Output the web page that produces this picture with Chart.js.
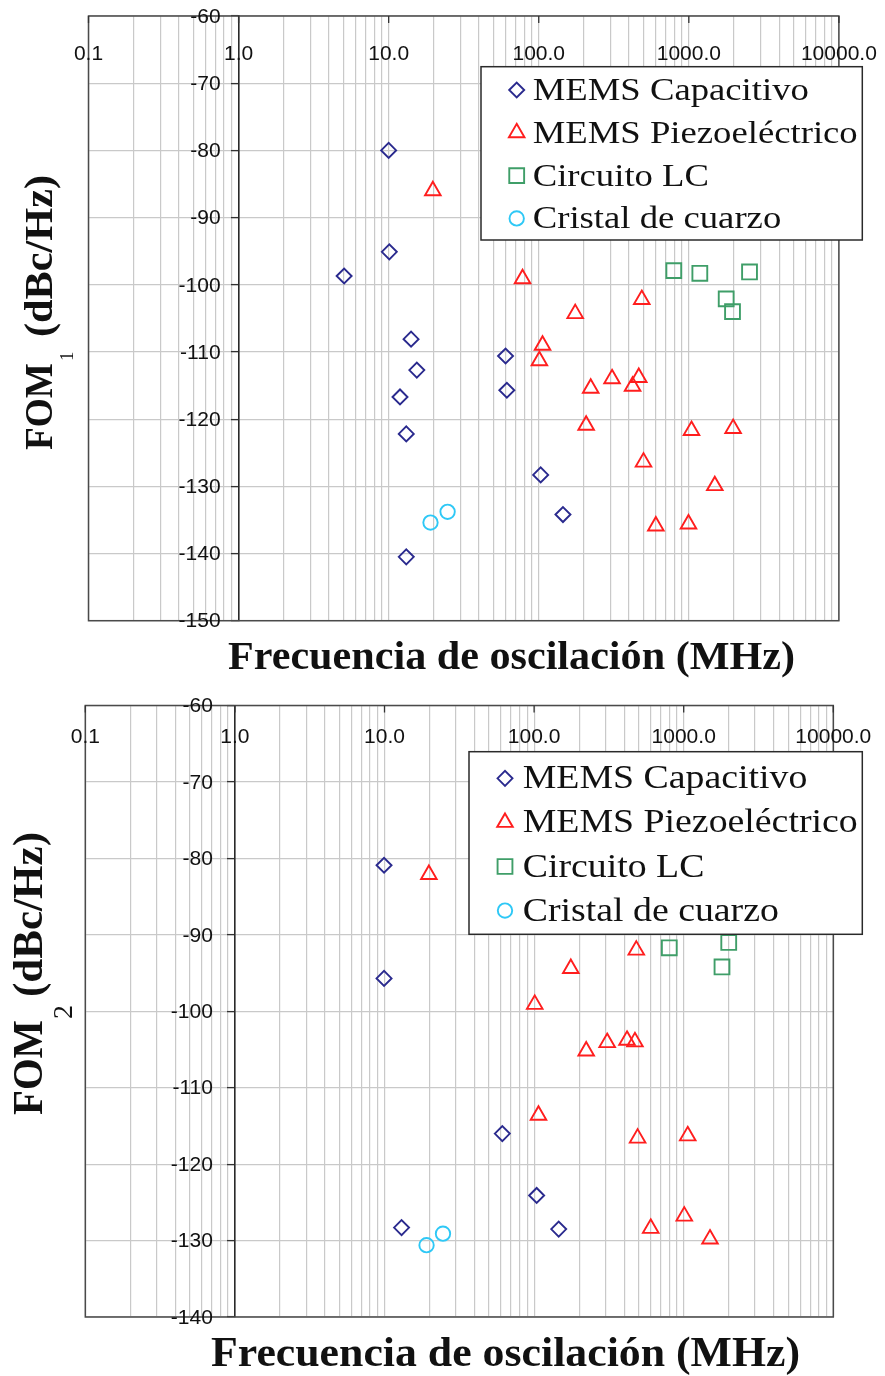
<!DOCTYPE html>
<html>
<head>
<meta charset="utf-8">
<title>FOM vs frecuencia de oscilación</title>
<script src="https://cdn.jsdelivr.net/npm/chart.js@4.4.1/dist/chart.umd.min.js"></script>
<style>
  html, body { margin: 0; padding: 0; background: #fff; }
  .panel { position: absolute; left: 0; width: 885px; height: 688px; }
  #panelTop { top: 0; }
  #panelBottom { top: 688px; }
  canvas { display: block; }
</style>
</head>
<body>
<div class="panel" id="panelTop"><canvas id="chartFom1" width="885" height="688"></canvas></div>
<div class="panel" id="panelBottom"><canvas id="chartFom2" width="885" height="688"></canvas></div>
<script>
// ---- axis ticks ----
const xDecades = [0.1, 1, 10, 100, 1000, 10000];
const xTickLabels = ['0.1', '1.0', '10.0', '100.0', '1000.0', '10000.0'];
const xGridSteps = [1, 2, 3, 4, 5, 6, 7, 8, 9];
const yTicksFom1 = [-60, -70, -80, -90, -100, -110, -120, -130, -140, -150];
const yTicksFom2 = [-60, -70, -80, -90, -100, -110, -120, -130, -140];

// ---- series names ----
const seriesNames = ['MEMS Capacitivo', 'MEMS Piezoeléctrico', 'Circuito LC', 'Cristal de cuarzo'];
const xTitle = 'Frecuencia de oscilación (MHz)';

// ---- FOM1 (frequency in MHz, value in dBc/Hz) ----
const fom1CapFreq = [10.0, 10.1, 5.05, 14.1, 15.4, 11.9, 13.1, 13.1, 60.1, 61.3, 103, 145];
const fom1CapVal  = [-80.0, -95.1, -98.7, -108.1, -112.7, -116.7, -122.2, -140.5, -110.6, -115.7, -128.3, -134.2];
const fom1PiezoFreq = [19.7, 78, 175, 486, 106, 101, 222, 308, 464, 422, 207, 1042, 1973, 499, 1490, 603, 995];
const fom1PiezoVal  = [-86.0, -99.1, -104.3, -102.2, -109.0, -111.3, -115.4, -114.0, -113.8, -115.1, -120.9, -121.7, -121.4, -126.4, -129.9, -135.9, -135.6];
const fom1LcFreq = [794, 1184, 2538, 1774, 1955];
const fom1LcVal  = [-97.9, -98.3, -98.1, -102.1, -104.0];
const fom1XtalFreq = [19.0, 24.7];
const fom1XtalVal  = [-135.4, -133.8];

// ---- FOM2 ----
const fom2CapFreq = [9.93, 9.93, 61.3, 104, 146, 13.0];
const fom2CapVal  = [-80.9, -95.7, -116.0, -124.1, -128.5, -128.3];
const fom2PiezoFreq = [19.8, 482, 176, 101, 223, 308, 418, 472, 107, 492, 1064, 602, 1009, 1499];
const fom2PiezoVal  = [-82.1, -92.0, -94.4, -99.1, -105.2, -104.1, -103.8, -104.0, -113.6, -116.6, -116.3, -128.4, -126.8, -129.8];
const fom2LcFreq = [801, 2000, 1803];
const fom2LcVal  = [-91.7, -91.0, -94.2];
const fom2XtalFreq = [19.1, 24.6];
const fom2XtalVal  = [-130.6, -129.1];

// ---- marker look per series ----
const markerStyles = [
  { pointStyle: 'rectRot',  radius: 7.5,  color: '#2a2a8e' },
  { pointStyle: 'triangle', radius: 9,    color: '#ff1e1e' },
  { pointStyle: 'rect',     radius: 10.5, color: '#3f9e68' },
  { pointStyle: 'circle',   radius: 7.2,  color: '#2ec8f6' }
];
const markerLineWidth = 1.9;
const tickFont = '21px "Liberation Sans", Arial, sans-serif';
const tickLength = 7;

// log grid positions: 1..9 x each decade, plus the last decade
const xGridValues = [];
xDecades.slice(0, -1).forEach(d => xGridValues.push(...xGridSteps.map(s => s * d)));
xGridValues.push(xDecades[xDecades.length - 1]);

function pairs(xs, ys) { return xs.map((x, i) => ({ x, y: ys[i] })); }

// draw text stretched horizontally to a given width
function fitText(ctx, text, x, y, width) {
  const w = ctx.measureText(text).width;
  ctx.save();
  ctx.translate(x, y);
  ctx.scale(width / w, 1);
  ctx.fillText(text, 0, 0);
  ctx.restore();
}

function drawMarker(ctx, style, x, y) {
  ctx.save();
  ctx.strokeStyle = style.color;
  ctx.fillStyle = 'rgba(0,0,0,0)';
  ctx.lineWidth = markerLineWidth;
  Chart.helpers.drawPoint(ctx, {
    pointStyle: style.pointStyle, radius: style.radius, rotation: 0, borderWidth: markerLineWidth
  }, x, y);
  ctx.restore();
}

// frame, tick labels, legend box and axis titles
const decorations = {
  id: 'decorations',
  beforeDatasetsDraw(chart, args, o) {
    const { ctx, chartArea: a } = chart;
    const xs = chart.scales.x;
    const ys = chart.scales.y;
    ctx.save();
    ctx.strokeStyle = '#4a4a4a';
    ctx.lineWidth = 1.5;
    ctx.strokeRect(a.left, a.top, a.right - a.left, a.bottom - a.top);

    // decade ticks hanging from the top edge, labels just below
    ctx.strokeStyle = '#333';
    ctx.lineWidth = 1.3;
    ctx.font = tickFont;
    ctx.fillStyle = '#111';
    ctx.textAlign = 'center';
    ctx.textBaseline = 'alphabetic';
    xDecades.forEach((v, i) => {
      const px = xs.getPixelForValue(v);
      ctx.beginPath();
      ctx.moveTo(px, a.top);
      ctx.lineTo(px, a.top + tickLength);
      ctx.stroke();
      ctx.fillText(xTickLabels[i], px, a.top + o.xLabelDrop);
    });

    // value labels left of the y axis, which crosses at x = 1
    const axisX = xs.getPixelForValue(1);
    ctx.textAlign = 'right';
    ctx.textBaseline = 'middle';
    ys.ticks.forEach(t => {
      ctx.fillText(String(t.value), axisX - tickLength - o.yLabelGap, ys.getPixelForValue(t.value) + 1);
    });
    ctx.restore();
  },
  afterDatasetsDraw(chart, args, o) {
    const { ctx } = chart;
    const L = o.legend;
    ctx.save();
    // legend
    ctx.fillStyle = '#fff';
    ctx.fillRect(L.box[0], L.box[1], L.box[2] - L.box[0], L.box[3] - L.box[1]);
    ctx.strokeStyle = '#2a2a2a';
    ctx.lineWidth = 1.5;
    ctx.strokeRect(L.box[0], L.box[1], L.box[2] - L.box[0], L.box[3] - L.box[1]);
    ctx.font = L.fontSize + 'px "Liberation Serif", serif';
    ctx.textAlign = 'left';
    ctx.textBaseline = 'alphabetic';
    const widest = Math.max(...seriesNames.map(n => ctx.measureText(n).width));
    const sx = L.widestWidth / widest;
    seriesNames.forEach((name, i) => {
      const y = L.firstRow + i * L.rowStep;
      drawMarker(ctx, markerStyles[i], L.markerX, y);
      ctx.fillStyle = '#111';
      ctx.save();
      ctx.translate(L.textX, y + L.baselineDrop);
      ctx.scale(sx, 1);
      ctx.fillText(name, 0, 0);
      ctx.restore();
    });

    // x title
    const T = o.xTitle;
    ctx.fillStyle = '#111';
    ctx.font = 'bold ' + T.size + 'px "Liberation Serif", serif';
    fitText(ctx, xTitle, T.x, T.baseline, T.width);

    // y title: FOM with subscript, then units
    const Y = o.yTitle;
    ctx.save();
    ctx.translate(Y.baselineX, Y.startY);
    ctx.rotate(-Math.PI / 2);
    ctx.font = 'bold ' + Y.size + 'px "Liberation Serif", serif';
    fitText(ctx, 'FOM', 0, 0, Y.fomWidth);
    ctx.font = Y.subSize + 'px "Liberation Serif", serif';
    ctx.fillText(Y.sub, Y.subStart, Y.subDrop);
    ctx.font = 'bold ' + Y.size + 'px "Liberation Serif", serif';
    fitText(ctx, '(dBc/Hz)', Y.unitStart, 0, Y.unitWidth);
    ctx.restore();

    ctx.restore();
  }
};

function buildChart(canvasId, series, yTicks, cfg) {
  const datasets = series.map((s, i) => ({
    label: seriesNames[i],
    data: pairs(s[0], s[1]),
    showLine: false,
    pointStyle: markerStyles[i].pointStyle,
    pointRadius: markerStyles[i].radius,
    pointHoverRadius: markerStyles[i].radius,
    pointBorderColor: markerStyles[i].color,
    pointBackgroundColor: 'rgba(0,0,0,0)',
    pointBorderWidth: markerLineWidth
  }));
  return new Chart(document.getElementById(canvasId), {
    type: 'scatter',
    data: { datasets },
    plugins: [decorations],
    options: {
      responsive: false,
      devicePixelRatio: 1,
      animation: false,
      events: [],
      layout: { padding: cfg.padding },
      scales: {
        x: {
          type: 'logarithmic',
          position: 'top',
          min: xDecades[0],
          max: xDecades[xDecades.length - 1],
          afterBuildTicks: s => { s.ticks = xGridValues.map(v => ({ value: v })); },
          afterFit: s => { s.height = 0; },
          ticks: { display: false },
          grid: { color: '#c9c9c9', lineWidth: 1.2, drawTicks: false },
          border: { display: false }
        },
        y: {
          type: 'linear',
          position: { x: 1 },
          min: yTicks[yTicks.length - 1],
          max: yTicks[0],
          afterBuildTicks: s => { s.ticks = yTicks.map(v => ({ value: v })); },
          ticks: { display: false },
          grid: { color: '#c9c9c9', lineWidth: 1.2, tickLength: tickLength, tickColor: '#333', tickWidth: 1.3 },
          border: { display: true, color: '#2a2a2a', width: 1.6 }
        }
      },
      plugins: {
        legend: { display: false },
        tooltip: { enabled: false },
        decorations: cfg.deco
      }
    }
  });
}

buildChart('chartFom1', [
  [fom1CapFreq, fom1CapVal],
  [fom1PiezoFreq, fom1PiezoVal],
  [fom1LcFreq, fom1LcVal],
  [fom1XtalFreq, fom1XtalVal]
], yTicksFom1, {
  padding: { left: 88.5, right: 46.1, top: 16, bottom: 67.3 },
  deco: {
    xLabelDrop: 43.5,
    yLabelGap: 11,
    legend: { box: [481, 66.7, 862.3, 240], markerX: 516.7, firstRow: 90, rowStep: 42.8,
              textX: 532.7, baselineDrop: 10, fontSize: 32, widestWidth: 325 },
    xTitle: { size: 40, x: 228, width: 567, baseline: 669 },
    yTitle: { baselineX: 52, startY: 450, size: 39, fomWidth: 87, sub: '1', subSize: 19,
              subStart: 89, subDrop: 21, unitStart: 113, unitWidth: 162 }
  }
});

buildChart('chartFom2', [
  [fom2CapFreq, fom2CapVal],
  [fom2PiezoFreq, fom2PiezoVal],
  [fom2LcFreq, fom2LcVal],
  [fom2XtalFreq, fom2XtalVal]
], yTicksFom2, {
  padding: { left: 85.3, right: 51.7, top: 17.5, bottom: 59 },
  deco: {
    xLabelDrop: 37.8,
    yLabelGap: 15,
    legend: { box: [469, 63.7, 862.3, 246.3], markerX: 505, firstRow: 90.3, rowStep: 44.1,
              textX: 522.7, baselineDrop: 10, fontSize: 34, widestWidth: 335 },
    xTitle: { size: 43, x: 211, width: 589, baseline: 678 },
    yTitle: { baselineX: 42, startY: 427, size: 43, fomWidth: 95, sub: '2', subSize: 28,
              subStart: 96, subDrop: 30, unitStart: 118, unitWidth: 165 }
  }
});
</script>
</body>
</html>
